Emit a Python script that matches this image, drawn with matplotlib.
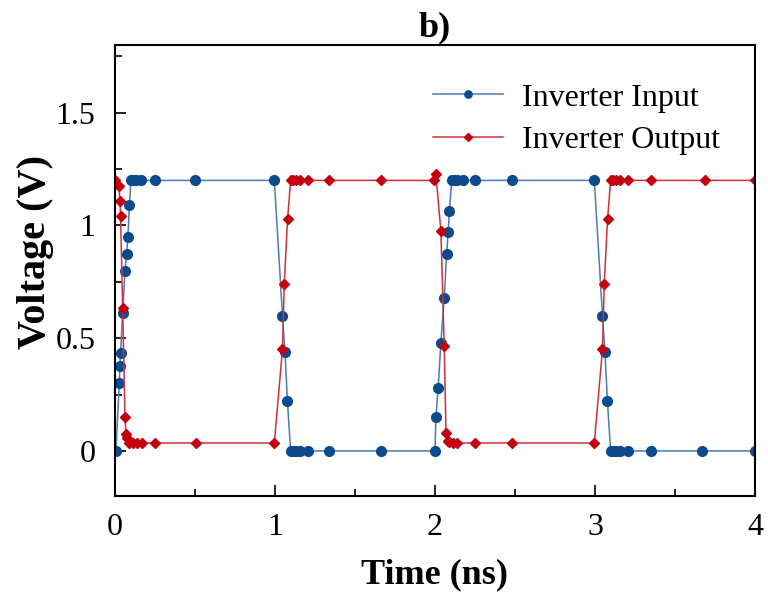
import matplotlib
matplotlib.use("Agg")
import matplotlib.pyplot as plt
from matplotlib.ticker import MultipleLocator

plt.rcParams['font.family'] = ['Liberation Serif', 'DejaVu Serif']

# inverter input (ns, V)
t_in = [0.006, 0.027, 0.031, 0.035, 0.048, 0.0625, 0.073, 0.081, 0.09,
        0.1, 0.11, 0.12, 0.13, 0.16, 0.25, 0.5, 0.996,
        1.047, 1.0625, 1.078, 1.098, 1.11, 1.13, 1.156, 1.208, 1.337, 1.66,
        2.0, 2.006, 2.02, 2.037, 2.058, 2.073, 2.083, 2.09,
        2.105, 2.115, 2.125, 2.14, 2.175, 2.25, 2.48, 2.996,
        3.047, 3.0625, 3.078, 3.098, 3.11, 3.13, 3.156, 3.208, 3.348, 3.67, 4.0]
v_in = [0.0, 0.30, 0.375, 0.435, 0.61, 0.80, 0.875, 0.95, 1.09,
        1.2, 1.2, 1.2, 1.2, 1.2, 1.2, 1.2, 1.2,
        0.60, 0.44, 0.22, 0.0, 0.0, 0.0, 0.0, 0.0, 0.0, 0.0,
        0.0, 0.15, 0.277, 0.48, 0.68, 0.875, 0.97, 1.065,
        1.2, 1.2, 1.2, 1.2, 1.2, 1.2, 1.2, 1.2,
        0.60, 0.44, 0.22, 0.0, 0.0, 0.0, 0.0, 0.0, 0.0, 0.0, 0.0]

# inverter output (ns, V)
t_out = [0.002, 0.025, 0.031, 0.035, 0.048, 0.0625, 0.069, 0.077, 0.09,
         0.11, 0.135, 0.166, 0.25, 0.504, 0.996,
         1.047, 1.058, 1.079, 1.098, 1.11, 1.13, 1.156, 1.208, 1.337, 1.66,
         1.996, 2.006, 2.037, 2.058, 2.069, 2.08, 2.09, 2.11, 2.14, 2.25, 2.48, 2.996,
         3.047, 3.058, 3.079, 3.098, 3.11, 3.13, 3.156, 3.208, 3.35, 3.69, 4.0]
v_out = [1.2, 1.175, 1.11, 1.04, 0.635, 0.15, 0.075, 0.057, 0.037,
         0.035, 0.035, 0.035, 0.035, 0.035, 0.035,
         0.45, 0.74, 1.03, 1.2, 1.2, 1.2, 1.2, 1.2, 1.2, 1.2,
         1.2, 1.227, 0.975, 0.465, 0.08, 0.045, 0.038, 0.035, 0.035, 0.035, 0.035, 0.035,
         0.45, 0.74, 1.03, 1.2, 1.2, 1.2, 1.2, 1.2, 1.2, 1.2, 1.2]

x_ticks = [0, 1, 2, 3, 4]
y_ticks = [0, 0.5, 1, 1.5]
y_tick_labels = ['0', '0.5', '1', '1.5']

fig = plt.figure(figsize=(7.68, 5.94), dpi=100)
ax = fig.add_axes([0.1497, 0.165, 0.8333, 0.759])

ax.plot(t_in, v_in, '-', color='#4a7bb3', lw=1.1, marker='o', ms=7,
        mfc='#0b4a8c', mec='#0b4a8c', label='Inverter Input')
ax.plot(t_out, v_out, '-', color='#d0303c', lw=1.1, marker='D', ms=5,
        mfc='#c4000f', mec='#c4000f', label='Inverter Output')

ax.set_xlim(0, 4)
ax.set_ylim(-0.2, 1.8)
ax.set_xticks(x_ticks)
ax.set_xticklabels([str(v) for v in x_ticks])
ax.xaxis.set_minor_locator(MultipleLocator(0.5))
ax.set_yticks(y_ticks)
ax.set_yticklabels(y_tick_labels)
ax.yaxis.set_minor_locator(MultipleLocator(0.25))
ax.tick_params(which='both', direction='in', top=False, right=False, labelsize=23)
ax.tick_params(axis='y', pad=14)
ax.tick_params(axis='x', pad=12)
ax.tick_params(which='major', length=8, width=1.2)
ax.tick_params(which='minor', length=5, width=1.2)
for s in ax.spines.values():
    s.set_linewidth(1.5)

ax.set_xlabel('Time (ns)', fontsize=26, fontweight='bold', labelpad=12)
ax.set_ylabel('Voltage (V)', fontsize=29, fontweight='bold')
ax.yaxis.set_label_coords(-0.095, 0.541)
ax.set_title('b)', fontsize=26, fontweight='bold', pad=6)

leg = ax.legend(loc='upper right', bbox_to_anchor=(0.981, 0.965), frameon=False,
                fontsize=23, handlelength=2.2, markerscale=0.75, borderaxespad=0.3,
                labelspacing=0.42, handletextpad=0.6)

fig.savefig('out.png', dpi=100)
